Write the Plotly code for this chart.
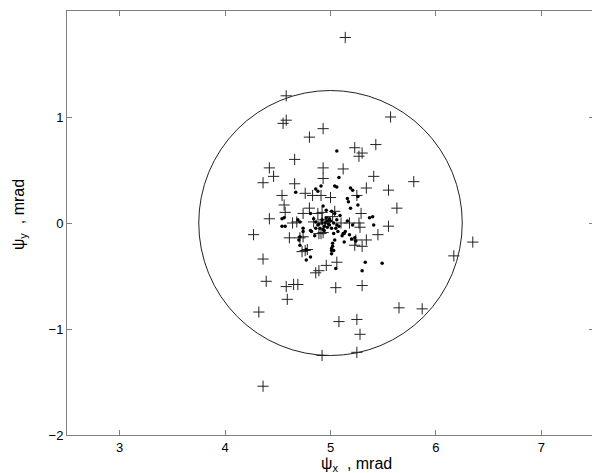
"""Beam angle scatter: psi_x vs psi_y with 1.25 mrad acceptance circle."""

import plotly.graph_objects as go

# ── Data ──
# "+" markers
PLUS_X = [
    5.14, 4.58, 4.58, 4.55, 4.93, 4.80, 4.66, 4.42, 4.93, 4.46, 4.93, 4.36,
    4.66, 4.76, 4.83, 4.91, 5.00, 4.54, 4.56, 4.57, 4.80, 4.42, 5.57, 5.43,
    5.23, 5.30, 5.27, 5.12, 5.41, 5.79, 5.55, 5.34, 5.25, 5.63, 5.29, 4.27,
    4.61, 4.71, 4.74, 4.68, 4.74, 4.76, 4.73, 4.36, 4.96, 4.89, 4.86, 5.06,
    4.39, 4.58, 4.65, 4.69, 5.05, 4.59, 4.32, 5.08, 4.92, 5.25, 4.36, 6.35,
    6.17, 5.18, 5.27, 5.28, 5.55, 5.45, 5.34, 5.24, 5.23, 5.30, 5.30, 5.65,
    5.87, 5.25, 5.28, 4.88, 5.04, 4.92, 4.95, 4.93, 4.92, 5.02, 5.10, 4.89,
    4.91, 4.64, 4.78, 4.84,
]
PLUS_Y = [
    1.75, 1.20, 0.97, 0.94, 0.89, 0.81, 0.60, 0.52, 0.52, 0.44, 0.42, 0.38,
    0.37, 0.28, 0.26, 0.26, 0.24, 0.26, 0.17, 0.10, 0.14, 0.04, 1.00, 0.74,
    0.71, 0.66, 0.63, 0.51, 0.44, 0.39, 0.31, 0.33, 0.26, 0.14, 0.09, -0.11,
    -0.14, -0.14, -0.13, 0.01, 0.09, -0.26, -0.27, -0.34, -0.40, -0.45, -0.47, -0.37,
    -0.55, -0.60, -0.58, -0.58, -0.61, -0.72, -0.84, -0.93, -1.25, -1.22, -1.54, -0.18,
    -0.31, 0.00, 0.00, -0.04, -0.03, -0.11, -0.16, -0.16, -0.21, -0.22, -0.59, -0.80,
    -0.81, -0.91, -1.05, 0.09, 0.11, 0.03, 0.01, -0.09, 0.10, 0.06, 0.00, -0.10,
    -0.10, 0.00, -0.25, 0.01,
]

# "." markers
DOT_X = [
    5.06, 5.08, 5.04, 5.19, 5.21, 5.16, 5.17, 5.19, 5.37, 5.40, 4.67, 4.86,
    4.91, 5.06, 4.88, 4.54, 4.54, 4.71, 4.77, 4.81, 5.01, 5.02, 5.05, 5.33,
    5.49, 5.30, 5.41, 5.13, 5.13, 5.01, 4.93, 4.71, 4.74, 4.74, 4.71, 4.70,
    4.81, 4.82, 4.96, 5.01, 5.04, 4.77, 4.81, 4.84, 4.86, 4.89, 4.92, 4.95,
    4.98, 5.00, 5.03, 5.06, 4.94, 4.97, 5.01, 5.05, 4.90, 5.08, 5.09, 5.07,
    5.11, 5.12, 5.03, 5.04, 5.02, 5.03, 5.01, 4.94, 4.96, 4.99, 4.92, 4.86,
    4.85, 5.16, 5.21, 5.23, 5.24, 5.18, 5.14, 5.20, 5.26, 5.26, 4.56, 4.57,
    4.69, 4.97, 4.99, 4.93, 5.06, 4.88,
]
DOT_Y = [
    0.68, 0.43, 0.35, 0.33, 0.31, 0.23, 0.20, 0.14, 0.05, 0.06, 0.29, 0.32,
    0.35, 0.34, 0.30, 0.04, -0.03, -0.21, -0.35, -0.32, -0.26, -0.22, -0.43, -0.37,
    -0.38, -0.45, -0.02, -0.10, -0.18, -0.24, 0.16, 0.01, -0.05, -0.08, -0.13, -0.16,
    -0.07, -0.08, 0.12, 0.11, 0.09, -0.25, 0.09, 0.04, 0.01, -0.01, 0.00, 0.00,
    -0.01, 0.02, 0.00, -0.02, -0.03, -0.04, -0.05, -0.05, -0.05, -0.03, 0.07, -0.08,
    -0.12, -0.10, -0.10, -0.16, -0.19, -0.26, -0.29, -0.07, 0.05, 0.04, 0.03, -0.05,
    -0.12, 0.02, -0.02, -0.14, -0.17, -0.11, -0.08, -0.15, 0.25, 0.17, 0.05, -0.03,
    0.03, 0.02, -0.02, -0.06, 0.03, -0.02,
]

CIRCLE_CENTER = (5.0, 0.0)
CIRCLE_RADIUS = 1.25

X_RANGE = [2.5, 7.5]
Y_RANGE = [-2, 2]
X_TICKS = [3, 4, 5, 6, 7]
Y_TICKS = [-2, -1, 0, 1, 2]
Y_TICK_TEXT = ["\u22122", "\u22121", "0", "1", "2"]

X_LABEL = "\u03c8<sub>x</sub>&nbsp; , mrad"
Y_LABEL = "\u03c8<sub>y</sub>&nbsp; , mrad"

FONT = "Liberation Sans, Arial, sans-serif"
AXIS_GREY = "#7f7f7f"

# the page body keeps its default 8px margin, so the figure is sized to fit
BODY_PAD = 8


def build():
    fig = go.Figure()

    cx, cy = CIRCLE_CENTER
    fig.add_shape(
        type="circle", xref="x", yref="y",
        x0=cx - CIRCLE_RADIUS, x1=cx + CIRCLE_RADIUS,
        y0=cy - CIRCLE_RADIUS, y1=cy + CIRCLE_RADIUS,
        line=dict(color="#222222", width=1),
    )

    fig.add_trace(go.Scatter(
        x=PLUS_X, y=PLUS_Y, mode="markers",
        marker=dict(symbol="cross-thin", size=8,
                    line=dict(color="#222222", width=1)),
        showlegend=False,
    ))
    fig.add_trace(go.Scatter(
        x=DOT_X, y=DOT_Y, mode="markers",
        marker=dict(symbol="circle", size=3.5, color="black"),
        showlegend=False,
    ))

    axis_common = dict(
        showgrid=False, zeroline=False, automargin=False,
        showline=True, linecolor=AXIS_GREY, linewidth=1, mirror="ticks",
        ticks="inside", ticklen=5, tickcolor=AXIS_GREY,
        tickfont=dict(family=FONT, size=13, color="black"),
    )
    fig.update_xaxes(range=X_RANGE, tickvals=X_TICKS, **axis_common)
    fig.update_yaxes(range=Y_RANGE, tickvals=Y_TICKS, ticktext=Y_TICK_TEXT,
                     **axis_common)

    # axis labels placed as annotations, as in the original figure
    title_font = dict(family=FONT, size=16, color="black")
    fig.add_annotation(
        text=X_LABEL, xref="paper", yref="paper", x=0.55, y=-0.069,
        xanchor="center", yanchor="middle", showarrow=False, font=title_font,
    )
    fig.add_annotation(
        text=Y_LABEL, xref="paper", yref="paper", x=-0.09, y=0.52,
        xanchor="center", yanchor="middle", textangle=-90,
        showarrow=False, font=title_font,
    )

    fig.update_layout(
        width=600 - BODY_PAD, height=473 - BODY_PAD,
        margin=dict(l=67 - BODY_PAD, r=6, t=11 - BODY_PAD, b=38),
        plot_bgcolor="white", paper_bgcolor="white",
        font=dict(family=FONT),
    )
    return fig


def main():
    fig = build()
    fig.write_html("out.html")


if __name__ == "__main__":
    main()
